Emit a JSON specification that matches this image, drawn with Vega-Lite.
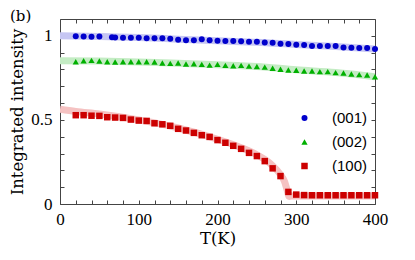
{
  "$schema": "https://vega.github.io/schema/vega-lite/v6.json",
  "width": 315,
  "height": 185,
  "autosize": "none",
  "padding": {"left": 60, "top": 19, "right": 40, "bottom": 56},
  "background": "white",
  "title": {"text": "(b)", "anchor": "start", "frame": "group", "dx": -50, "dy": 17, "offset": 0, "baseline": "alphabetic", "font": "DejaVu Serif", "fontSize": 15, "fontWeight": "normal", "color": "#000"},
  "config": {
    "view": {"stroke": null},
    "axis": {"grid": false, "domainColor": "#444", "tickColor": "#444", "labelFont": "Liberation Serif", "labelFontSize": 17, "labelColor": "#000", "titleFont": "DejaVu Serif", "titleFontSize": 16.5, "titleFontWeight": "normal", "titleColor": "#000"},
    "legend": {"labelFont": "Liberation Sans", "labelFontSize": 15, "labelColor": "#000"}
  },
  "datasets": {
    "pts": [
      {"s": "(001)", "T": 20, "I": 0.998}, {"s": "(001)", "T": 30, "I": 0.996}, {"s": "(001)", "T": 40, "I": 0.994}, {"s": "(001)", "T": 50, "I": 0.996},
      {"s": "(001)", "T": 66, "I": 0.992}, {"s": "(001)", "T": 70, "I": 0.990}, {"s": "(001)", "T": 80, "I": 0.988}, {"s": "(001)", "T": 90, "I": 0.988},
      {"s": "(001)", "T": 100, "I": 0.988}, {"s": "(001)", "T": 110, "I": 0.986}, {"s": "(001)", "T": 120, "I": 0.985}, {"s": "(001)", "T": 130, "I": 0.985},
      {"s": "(001)", "T": 140, "I": 0.983}, {"s": "(001)", "T": 150, "I": 0.976}, {"s": "(001)", "T": 160, "I": 0.973}, {"s": "(001)", "T": 170, "I": 0.973},
      {"s": "(001)", "T": 180, "I": 0.979}, {"s": "(001)", "T": 190, "I": 0.973}, {"s": "(001)", "T": 200, "I": 0.970}, {"s": "(001)", "T": 210, "I": 0.969},
      {"s": "(001)", "T": 220, "I": 0.969}, {"s": "(001)", "T": 230, "I": 0.967}, {"s": "(001)", "T": 240, "I": 0.964}, {"s": "(001)", "T": 250, "I": 0.964},
      {"s": "(001)", "T": 260, "I": 0.961}, {"s": "(001)", "T": 270, "I": 0.959}, {"s": "(001)", "T": 280, "I": 0.953}, {"s": "(001)", "T": 290, "I": 0.951},
      {"s": "(001)", "T": 300, "I": 0.947}, {"s": "(001)", "T": 310, "I": 0.945}, {"s": "(001)", "T": 320, "I": 0.939}, {"s": "(001)", "T": 330, "I": 0.939},
      {"s": "(001)", "T": 340, "I": 0.940}, {"s": "(001)", "T": 350, "I": 0.939}, {"s": "(001)", "T": 360, "I": 0.931}, {"s": "(001)", "T": 370, "I": 0.929},
      {"s": "(001)", "T": 380, "I": 0.927}, {"s": "(001)", "T": 390, "I": 0.927}, {"s": "(001)", "T": 400, "I": 0.921},
      {"s": "(002)", "T": 20, "I": 0.846}, {"s": "(002)", "T": 30, "I": 0.852}, {"s": "(002)", "T": 40, "I": 0.854}, {"s": "(002)", "T": 50, "I": 0.850},
      {"s": "(002)", "T": 60, "I": 0.846}, {"s": "(002)", "T": 70, "I": 0.844}, {"s": "(002)", "T": 80, "I": 0.846}, {"s": "(002)", "T": 90, "I": 0.846},
      {"s": "(002)", "T": 100, "I": 0.846}, {"s": "(002)", "T": 110, "I": 0.846}, {"s": "(002)", "T": 120, "I": 0.844}, {"s": "(002)", "T": 130, "I": 0.838},
      {"s": "(002)", "T": 140, "I": 0.836}, {"s": "(002)", "T": 150, "I": 0.838}, {"s": "(002)", "T": 160, "I": 0.832}, {"s": "(002)", "T": 170, "I": 0.834},
      {"s": "(002)", "T": 180, "I": 0.830}, {"s": "(002)", "T": 190, "I": 0.826}, {"s": "(002)", "T": 200, "I": 0.830}, {"s": "(002)", "T": 210, "I": 0.824},
      {"s": "(002)", "T": 220, "I": 0.822}, {"s": "(002)", "T": 230, "I": 0.824}, {"s": "(002)", "T": 240, "I": 0.820}, {"s": "(002)", "T": 250, "I": 0.818},
      {"s": "(002)", "T": 260, "I": 0.814}, {"s": "(002)", "T": 270, "I": 0.807}, {"s": "(002)", "T": 280, "I": 0.801}, {"s": "(002)", "T": 290, "I": 0.797},
      {"s": "(002)", "T": 300, "I": 0.795}, {"s": "(002)", "T": 310, "I": 0.791}, {"s": "(002)", "T": 320, "I": 0.791}, {"s": "(002)", "T": 330, "I": 0.787},
      {"s": "(002)", "T": 340, "I": 0.787}, {"s": "(002)", "T": 350, "I": 0.781}, {"s": "(002)", "T": 360, "I": 0.779}, {"s": "(002)", "T": 370, "I": 0.773},
      {"s": "(002)", "T": 380, "I": 0.769}, {"s": "(002)", "T": 390, "I": 0.767}, {"s": "(002)", "T": 400, "I": 0.757},
      {"s": "(100)", "T": 20, "I": 0.528}, {"s": "(100)", "T": 30, "I": 0.528}, {"s": "(100)", "T": 40, "I": 0.525}, {"s": "(100)", "T": 50, "I": 0.524},
      {"s": "(100)", "T": 60, "I": 0.516}, {"s": "(100)", "T": 70, "I": 0.514}, {"s": "(100)", "T": 80, "I": 0.512}, {"s": "(100)", "T": 90, "I": 0.502},
      {"s": "(100)", "T": 100, "I": 0.496}, {"s": "(100)", "T": 110, "I": 0.494}, {"s": "(100)", "T": 120, "I": 0.480}, {"s": "(100)", "T": 130, "I": 0.474},
      {"s": "(100)", "T": 140, "I": 0.465}, {"s": "(100)", "T": 150, "I": 0.447}, {"s": "(100)", "T": 160, "I": 0.437}, {"s": "(100)", "T": 170, "I": 0.423},
      {"s": "(100)", "T": 180, "I": 0.409}, {"s": "(100)", "T": 190, "I": 0.399}, {"s": "(100)", "T": 200, "I": 0.380}, {"s": "(100)", "T": 210, "I": 0.364},
      {"s": "(100)", "T": 220, "I": 0.346}, {"s": "(100)", "T": 230, "I": 0.328}, {"s": "(100)", "T": 240, "I": 0.304}, {"s": "(100)", "T": 250, "I": 0.285},
      {"s": "(100)", "T": 260, "I": 0.255}, {"s": "(100)", "T": 270, "I": 0.212}, {"s": "(100)", "T": 280, "I": 0.166}, {"s": "(100)", "T": 290, "I": 0.072},
      {"s": "(100)", "T": 300, "I": 0.056}, {"s": "(100)", "T": 310, "I": 0.053}, {"s": "(100)", "T": 320, "I": 0.052}, {"s": "(100)", "T": 330, "I": 0.052},
      {"s": "(100)", "T": 340, "I": 0.052}, {"s": "(100)", "T": 350, "I": 0.052}, {"s": "(100)", "T": 360, "I": 0.052}, {"s": "(100)", "T": 370, "I": 0.052},
      {"s": "(100)", "T": 380, "I": 0.052}, {"s": "(100)", "T": 390, "I": 0.052}, {"s": "(100)", "T": 400, "I": 0.052}
    ],
    "fit": [
      {"curve": "(001)", "T": 0, "F": 1.0}, {"curve": "(001)", "T": 50, "F": 0.996}, {"curve": "(001)", "T": 100, "F": 0.99}, {"curve": "(001)", "T": 150, "F": 0.98},
      {"curve": "(001)", "T": 200, "F": 0.97}, {"curve": "(001)", "T": 250, "F": 0.962}, {"curve": "(001)", "T": 300, "F": 0.948}, {"curve": "(001)", "T": 350, "F": 0.936}, {"curve": "(001)", "T": 400, "F": 0.922},
      {"curve": "(002)", "T": 0, "F": 0.852}, {"curve": "(002)", "T": 50, "F": 0.85}, {"curve": "(002)", "T": 100, "F": 0.845}, {"curve": "(002)", "T": 150, "F": 0.837},
      {"curve": "(002)", "T": 200, "F": 0.828}, {"curve": "(002)", "T": 250, "F": 0.818}, {"curve": "(002)", "T": 300, "F": 0.798}, {"curve": "(002)", "T": 350, "F": 0.782}, {"curve": "(002)", "T": 400, "F": 0.757},
      {"curve": "(100)", "T": 0, "F": 0.563}, {"curve": "(100)", "T": 20, "F": 0.55}, {"curve": "(100)", "T": 50, "F": 0.535}, {"curve": "(100)", "T": 100, "F": 0.5},
      {"curve": "(100)", "T": 150, "F": 0.452}, {"curve": "(100)", "T": 200, "F": 0.385}, {"curve": "(100)", "T": 230, "F": 0.335}, {"curve": "(100)", "T": 250, "F": 0.293},
      {"curve": "(100)", "T": 260, "F": 0.265}, {"curve": "(100)", "T": 270, "F": 0.228}, {"curve": "(100)", "T": 280, "F": 0.175}, {"curve": "(100)", "T": 285, "F": 0.135},
      {"curve": "(100)", "T": 288, "F": 0.09}, {"curve": "(100)", "T": 291, "F": 0.045}, {"curve": "(100)", "T": 296, "F": 0.048}, {"curve": "(100)", "T": 400, "F": 0.048}
    ]
  },
  "resolve": {"axis": {"x": "independent", "y": "independent"}},
  "layer": [
    {
      "data": {"name": "fit"},
      "mark": {"type": "line", "strokeWidth": 7, "interpolate": "monotone", "clip": true},
      "encoding": {
        "x": {"field": "T", "type": "quantitative", "scale": {"domain": [0, 400], "nice": false},
          "axis": {"orient": "bottom", "title": "T(K)", "values": [0,20,40,60,80,100,120,140,160,180,200,220,240,260,280,300,320,340,360,380,400], "labelExpr": "datum.value % 100 === 0 ? datum.label : ''", "tickSize": -4, "labelPadding": 11, "titlePadding": 3, "labelFlush": false}},
        "y": {"field": "F", "type": "quantitative", "scale": {"domain": [0, 1.1], "nice": false},
          "axis": {"orient": "left", "title": "Integrated intensity", "values": [0,0.1,0.2,0.3,0.4,0.5,0.6,0.7,0.8,0.9,1.0], "labelExpr": "datum.value === 0 ? '0' : datum.value === 0.5 ? '0.5' : datum.value === 1 ? '1' : ''", "tickSize": -4, "labelPadding": 12, "titlePadding": 5, "labelFlush": false}},
        "stroke": {"field": "curve", "type": "nominal", "scale": {"range": ["#c6c6f3", "#c4ecc4", "#f5c2c2"]}, "legend": null}
      }
    },
    {
      "data": {"name": "pts"},
      "mark": {"type": "point", "filled": true, "opacity": 1},
      "encoding": {
        "x": {"field": "T", "type": "quantitative", "scale": {"domain": [0, 400], "nice": false},
          "axis": {"orient": "top", "title": null, "labels": false, "values": [0,20,40,60,80,100,120,140,160,180,200,220,240,260,280,300,320,340,360,380,400], "tickSize": -4}},
        "y": {"field": "I", "type": "quantitative", "scale": {"domain": [0, 1.1], "nice": false},
          "axis": {"orient": "right", "title": null, "labels": false, "values": [0,0.1,0.2,0.3,0.4,0.5,0.6,0.7,0.8,0.9,1.0], "tickSize": -4}},
        "size": {"field": "s", "type": "nominal", "title": null, "scale": {"domain": ["(001)", "(002)", "(100)"], "range": [36, 42, 50]}},
        "color": {"field": "s", "type": "nominal", "title": null,
          "scale": {"domain": ["(001)", "(002)", "(100)"], "range": ["#0000cc", "#00b000", "#cc0000"]},
          "legend": {"orient": "none", "legendX": 237, "legendY": 87, "title": null, "symbolSize": 100, "clipHeight": 24, "rowPadding": 0, "labelOffset": 20, "symbolStrokeWidth": 1,
            "encode": {"symbols": {
              "enter": {
                "shape": {"signal": "datum.value === '(001)' ? 'M-0.66,0 A0.66,0.66 0 1,1 0.66,0 A0.66,0.66 0 1,1 -0.66,0 Z M0,-1.7 L0,1.7' : datum.value === '(002)' ? 'M0,-0.75 L0.72,0.5 L-0.72,0.5 Z M0,-1.7 L0,1.7' : 'M-0.62,-0.62 L0.62,-0.62 L0.62,0.62 L-0.62,0.62 Z M0,-1.7 L0,1.7'"}
              },
              "update": {
                "size": {"value": 100},
                "stroke": {"scale": "color", "field": "value"},
                "shape": {"signal": "datum.value === '(001)' ? 'M-0.66,0 A0.66,0.66 0 1,1 0.66,0 A0.66,0.66 0 1,1 -0.66,0 Z M0,-1.7 L0,1.7' : datum.value === '(002)' ? 'M0,-0.75 L0.72,0.5 L-0.72,0.5 Z M0,-1.7 L0,1.7' : 'M-0.62,-0.62 L0.62,-0.62 L0.62,0.62 L-0.62,0.62 Z M0,-1.7 L0,1.7'"}
              }}}}},
        "shape": {"field": "s", "type": "nominal", "title": null, "scale": {"domain": ["(001)", "(002)", "(100)"], "range": ["circle", "triangle-up", "square"]}}
      }
    }
  ]
}
